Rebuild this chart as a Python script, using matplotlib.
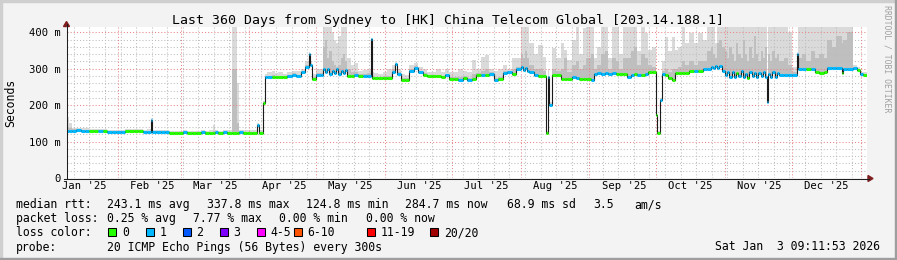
import matplotlib
matplotlib.use('Agg')
from matplotlib import pyplot as plt
from matplotlib.patches import Rectangle, Polygon
from matplotlib.lines import Line2D

# ---- data, day 0 = 1 Jan 2025 ----
days = [
    8, 9, 10, 12, 14, 16, 18, 20, 22, 24, 26, 28, 30,
    32, 34, 36, 38, 40, 42, 44, 45.5, 46, 48, 50, 52, 54, 56, 58,
    60, 62, 64, 66, 68, 70, 72, 73.5, 74.5, 76, 78, 80, 82, 84.2, 85.5, 87, 89,
    91, 93.5, 94.2, 96, 97, 98, 100, 101.5, 103, 105, 107, 109, 111, 113, 115, 116.6, 117.2, 118,
    120, 122, 123, 124, 125, 126, 127, 128, 129, 130, 131, 132, 133, 134, 135.5, 137, 139, 141, 143, 144.5, 145, 146, 148, 150,
    152, 154, 155.5, 156.3, 158, 160, 162, 164, 166, 168, 170, 172, 174, 176, 178, 180,
    182, 184, 186, 188, 190, 192, 194, 196, 198, 200, 202, 204, 206, 208, 210,
    212, 213, 214, 215, 216, 218, 220, 222, 223.5, 224.2, 225, 226, 228, 230, 231.5, 233, 235, 237, 238.5, 240, 241.5,
    243.5, 245, 246.5, 248, 250, 251.5, 253, 255, 256.5, 258, 260, 261.5, 263, 264.5, 266, 268, 269.5, 271, 272.8,
    273.3, 274.8, 275.6, 277, 278.5, 280, 281.5, 283, 284.5, 286, 288, 290, 292, 294, 296, 297.5, 298.5, 299.5, 300.5, 301.5, 302.7,
    304, 305, 306, 307, 308, 309, 310, 311, 312, 313, 314, 315, 316, 317, 318, 319, 320, 321, 322, 322.8, 323.3, 324.3, 325.3, 326.3, 327.3, 328.5, 330.5, 332.5,
    334, 336.2, 336.4, 336.9, 338.5, 340.5, 342.5, 344.5, 346.5, 348.5, 350, 352, 354, 356.5, 357.2, 359, 361.6, 363.4, 364.7, 366,
]
median_ms = [
    130, 130, 130, 131, 130, 130, 129, 129, 130, 129, 127, 127, 127,
    127, 129, 129, 129, 129, 127, 127, 160, 127, 127, 127, 127, 124, 124, 124,
    125, 124, 124, 124, 125, 124, 124, 124, 125, 124, 125, 124, 124, 124, 126, 124, 124,
    124, 145, 124, 207, 276, 276, 277, 276, 277, 276, 280, 283, 279, 290, 305, 340, 310, 272,
    284, 283, 300, 292, 298, 286, 295, 289, 300, 286, 295, 288, 296, 281, 280, 283, 279, 281, 281, 383, 275, 274, 274, 274,
    275, 292, 312, 285, 270, 269, 295, 303, 290, 283, 279, 279, 279, 276, 282, 272,
    272, 270, 274, 268, 272, 283, 284, 283, 285, 269, 271, 288, 290, 286, 300,
    305, 296, 301, 294, 291, 282, 280, 280, 124, 276, 200, 283, 283, 272, 272, 272, 276, 274, 272, 272, 272,
    268, 285, 288, 286, 289, 285, 288, 285, 285, 285, 276, 284, 285, 284, 283, 285, 290, 290, 173,
    124, 214, 286, 284, 274, 268, 287, 287, 287, 287, 294, 294, 293, 299, 298, 306, 303, 308, 302, 307, 294,
    283, 290, 278, 292, 276, 288, 280, 293, 277, 286, 274, 291, 281, 289, 276, 287, 280, 290, 278, 208, 285, 278, 290, 276, 287, 283, 283, 283,
    284, 284, 340, 300, 299, 298, 300, 290, 289, 290, 301, 301, 302, 289, 298, 298, 303, 297, 285, 284,
]
# lost pings per sample (index into loss_colors)
loss = [
    1, 1, 1, 1, 1, 1, 0, 0, 1, 0, 1, 1, 1,
    1, 0, 0, 0, 0, 1, 1, 1, 1, 1, 1, 1, 0, 0, 0,
    1, 0, 0, 0, 1, 0, 0, 0, 1, 0, 1, 0, 0, 0, 1, 0, 0,
    0, 1, 0, 0, 1, 1, 0, 0, 0, 0, 1, 1, 1, 1, 1, 1, 1, 0,
    1, 1, 1, 1, 1, 1, 1, 1, 1, 1, 1, 1, 1, 0, 0, 1, 0, 1, 1, 1, 0, 0, 0, 0,
    0, 1, 1, 1, 0, 0, 1, 1, 1, 0, 0, 0, 0, 0, 1, 0,
    0, 1, 0, 1, 0, 0, 1, 0, 1, 1, 0, 1, 1, 0, 1,
    1, 1, 1, 1, 1, 1, 0, 0, 0, 1, 1, 0, 0, 0, 0, 0, 1, 1, 0, 0, 0,
    1, 1, 1, 1, 1, 1, 1, 0, 0, 0, 1, 1, 0, 1, 0, 1, 0, 0, 0,
    0, 1, 1, 0, 0, 0, 0, 0, 0, 0, 0, 1, 0, 1, 1, 1, 1, 1, 1, 1, 1,
    1, 1, 1, 1, 1, 0, 1, 1, 1, 1, 0, 1, 1, 1, 1, 1, 1, 1, 1, 1, 1, 1, 1, 1, 1, 1, 1, 1,
    1, 1, 1, 1, 1, 0, 1, 0, 0, 0, 1, 1, 1, 0, 1, 1, 1, 0, 1, 0,
]
# smoke: top of all pings and top of the denser band
smoke_max = [
    168, 150, 138, 137, 136, 136, 135, 134, 135, 134, 133, 133, 132,
    132, 134, 134, 135, 134, 132, 135, 165, 133, 132, 132, 133, 129, 129, 130,
    131, 129, 129, 130, 131, 130, 132, 145, 131, 130, 131, 132, 415, 260, 132, 131, 131,
    131, 150, 133, 212, 285, 290, 295, 288, 290, 286, 292, 294, 293, 300, 322, 345, 320, 285,
    298, 300, 415, 415, 415, 415, 400, 380, 370, 390, 415, 415, 415, 330, 310, 315, 295, 296, 300, 385, 290, 288, 286, 290,
    300, 310, 318, 300, 285, 282, 310, 315, 305, 300, 292, 290, 300, 292, 298, 290,
    290, 300, 295, 292, 325, 300, 332, 338, 300, 295, 300, 310, 300, 329, 330,
    415, 415, 415, 415, 370, 340, 365, 333, 130, 300, 210, 357, 330, 370, 351, 324, 380, 415, 340, 412, 415,
    415, 330, 360, 415, 415, 330, 415, 415, 340, 415, 415, 415, 415, 350, 415, 398, 351, 360, 180,
    130, 220, 320, 387, 350, 387, 351, 360, 415, 370, 398, 370, 398, 380, 415, 415, 415, 370, 415, 415, 415,
    415, 415, 415, 415, 415, 415, 415, 415, 415, 415, 415, 415, 415, 415, 415, 415, 415, 415, 415, 215, 415, 415, 415, 415, 415, 415, 415, 400,
    305, 305, 345, 415, 415, 415, 415, 415, 415, 415, 415, 415, 415, 415, 415, 415, 310, 305, 292, 290,
]
smoke_mid = [
    140, 136, 134, 134, 133, 133, 132, 131, 132, 131, 130, 130, 129,
    129, 131, 131, 131, 131, 129, 130, 160, 129, 129, 129, 129, 126, 126, 126,
    127, 126, 126, 126, 127, 126, 127, 130, 127, 126, 127, 127, 300, 150, 128, 126, 126,
    126, 145, 126, 208, 279, 280, 282, 280, 281, 280, 284, 287, 283, 294, 310, 340, 312, 276,
    288, 288, 360, 380, 330, 350, 320, 310, 305, 310, 330, 340, 320, 300, 290, 292, 285, 286, 288, 383, 280, 278, 278, 279,
    280, 298, 313, 290, 275, 274, 300, 307, 295, 288, 283, 283, 284, 281, 286, 277,
    277, 276, 279, 274, 285, 288, 295, 300, 290, 275, 276, 293, 295, 300, 306,
    340, 330, 350, 330, 310, 300, 300, 295, 124, 280, 200, 300, 295, 300, 330, 290, 310, 320, 300, 310, 330,
    340, 300, 310, 340, 350, 300, 330, 320, 300, 330, 330, 350, 360, 310, 340, 330, 310, 305, 173,
    124, 214, 295, 300, 290, 300, 300, 305, 320, 310, 320, 310, 320, 320, 350, 360, 340, 330, 370, 380, 360,
    350, 330, 360, 340, 320, 370, 340, 330, 380, 340, 320, 360, 330, 390, 340, 320, 350, 330, 360, 208, 340, 320, 350, 330, 340, 320, 330, 310,
    292, 292, 340, 330, 340, 320, 350, 330, 340, 330, 380, 360, 390, 370, 380, 400, 305, 300, 287, 286,
]

end_day = 367.9
month_starts = [0, 31, 59, 90, 120, 151, 181, 212, 243, 273, 304, 334, 365]
month_names = ['Jan', 'Feb', 'Mar', 'Apr', 'May', 'Jun', 'Jul', 'Aug', 'Sep', 'Oct', 'Nov', 'Dec']
loss_colors = ['#26ff00', '#00b8ff', '#0059ff', '#7e00ff', '#ff00ff', '#ff5500', '#ff0000', '#a10000']
loss_labels = ['0', '1', '2', '3', '4-5', '6-10', '11-19', '20/20']

W, H = 897, 260
plt.rcParams['font.family'] = ['DejaVu Sans Mono']

fig = plt.figure(figsize=(W / 100, H / 100), dpi=100, facecolor='#f3f3f3')


def fx(x):
    return x / W


def fy(y):
    return 1 - y / H


ax = fig.add_axes([fx(67), fy(178), 800 / W, 151 / H])
ax.set_facecolor('white')
ax.set_xlim(7.9, end_day)
ax.set_ylim(0, 151 / 0.3642)
for s in ax.spines.values():
    s.set_visible(False)

# smoke
xs = days + [end_day]
med_s = median_ms + [median_ms[-1]]
ax.fill_between(xs, med_s, smoke_max + [smoke_max[-1]], step='post', color='#dadada', lw=0, zorder=1)
ax.fill_between(xs, med_s, smoke_mid + [smoke_mid[-1]], step='post', color='#bfbfbf', lw=0, zorder=1.1)

# grid (dotted, like rrdtool)
dots = (0, (1, 2))
minor_c = '#bdbdbd'
major_c = '#e88585'
for v in range(20, 420, 20):
    ax.axhline(v, color=major_c if v % 100 == 0 else minor_c, lw=0.75, ls=dots, zorder=2)
d = 11
while d < end_day:
    if d not in month_starts:
        ax.axvline(d, color=minor_c, lw=0.75, ls=dots, zorder=2)
    d += 7
for m in month_starts[1:]:
    ax.axvline(m, color=major_c, lw=0.75, ls=dots, zorder=2)

# median line and loss colour marks
ax.plot(xs, med_s, drawstyle='steps-post', color='#1a1a1a', lw=0.8, zorder=3)
ax.hlines(median_ms, days, days[1:] + [end_day], colors=[loss_colors[l] for l in loss], lw=2.2, zorder=4)

# ticks
ax.set_xticks([m + 15.5 for m in month_starts[:12]], [f"{n} '25" for n in month_names])
ax.set_yticks([0, 100, 200, 300, 400], ['0', '100 m', '200 m', '300 m', '400 m'])
ax.tick_params(axis='x', length=0, pad=2.3, labelsize=7.6)
ax.tick_params(axis='y', length=0, pad=4.2, labelsize=7.6)

# axes with arrows
fig.add_artist(Line2D([fx(66.5), fx(66.5)], [fy(178.5), fy(24)], color='#1f1f1f', lw=0.75))
fig.add_artist(Line2D([fx(64), fx(869)], [fy(178.5), fy(178.5)], color='#1f1f1f', lw=0.75))
fig.add_artist(Polygon([(fx(63.5), fy(26.5)), (fx(69.5), fy(26.5)), (fx(66.5), fy(21.5))], color='#7f1f1f'))
fig.add_artist(Polygon([(fx(868), fy(175.5)), (fx(868), fy(181.5)), (fx(873), fy(178.5))], color='#7f1f1f'))

# frame shading
fig.add_artist(Rectangle((0, fy(2)), 1, 2 / H, transform=fig.transFigure, color='#cfcfcf'))
fig.add_artist(Rectangle((0, 0), fx(2), 1, transform=fig.transFigure, color='#cfcfcf'))
fig.add_artist(Rectangle((0, 0), 1, 2.5 / H, transform=fig.transFigure, color='#9e9e9e'))
fig.add_artist(Rectangle((fx(894.5), 0), 2.5 / W, 1, transform=fig.transFigure, color='#9e9e9e'))

# texts
fig.text(fx(447.5), fy(24), 'Last 360 Days from Sydney to [HK] China Telecom Global [203.14.188.1]',
         ha='center', va='baseline', fontsize=9.5)
fig.text(fx(11), fy(102.5), 'Seconds', rotation=90, ha='center', va='center', fontsize=8.3)
fig.text(fx(886.5), fy(59), 'RRDTOOL / TOBI OETIKER', rotation=270, ha='center', va='center',
         fontsize=5.9, color='#a0a0a0')

rows = [
    (208, [(16, 'median rtt:'), (107, '243.1 ms avg'), (207, '337.8 ms max'), (305.5, '124.8 ms min'),
           (404.5, '284.7 ms now'), (507, '68.9 ms sd'), (593, '3.5'), (634.5, 'am/s')]),
    (222, [(16, 'packet loss:'), (107, '0.25 % avg'), (193, '7.77 % max'), (279, '0.00 % min'),
           (365.5, '0.00 % now')]),
    (236, [(16, 'loss color:')]),
    (250.5, [(16, 'probe:'), (107, '20 ICMP Echo Pings (56 Bytes) every 300s')]),
]
for yb, items in rows:
    for x, t in items:
        fig.text(fx(x), fy(yb), t, ha='left', va='baseline', fontsize=8.3)
fig.text(fx(880), fy(250.5), 'Sat Jan  3 09:11:53 2026', ha='right', va='baseline', fontsize=8.3)

sq_x = [108, 145.5, 182.5, 219.5, 256.5, 293.5, 366.5, 430]
for x, c, lab in zip(sq_x, loss_colors, loss_labels):
    fig.add_artist(Rectangle((fx(x), fy(235.5)), 8 / W, 8 / H, transform=fig.transFigure,
                             facecolor=c, edgecolor='black', lw=0.75))
    fig.text(fx(x + 14), fy(236), lab, ha='left', va='baseline', fontsize=8.3)

fig.savefig('out.png', dpi=100, facecolor=fig.get_facecolor())
